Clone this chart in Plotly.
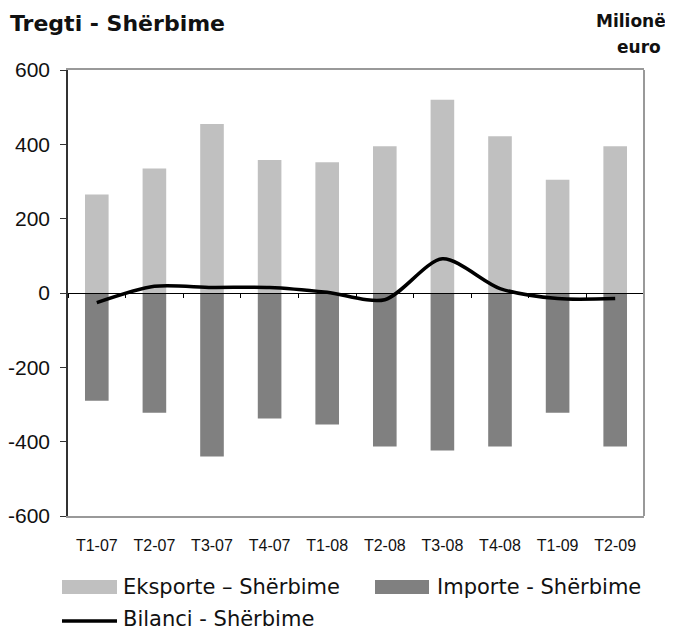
import plotly.graph_objects as go

categories = ["T1-07", "T2-07", "T3-07", "T4-07", "T1-08", "T2-08", "T3-08", "T4-08", "T1-09", "T2-09"]
eksporte = [265, 335, 455, 358, 352, 395, 520, 422, 305, 395]
importe = [-290, -322, -440, -338, -354, -413, -424, -413, -322, -413]
bilanci = [-26, 18, 15, 15, 2, -18, 92, 12, -15, -15]
y_ticks = [-600, -400, -200, 0, 200, 400, 600]
y_tick_text = ["-600", "-400", "-200", "0", "200", "400", "600"]
series_names = ["Eksporte – Shërbime", "Importe - Shërbime", "Bilanci - Shërbime"]
colors = ["#C0C0C0", "#808080", "#000000"]

# the page body has an 8px margin, so figure coords = page coords - 8
OFF = 8
W, H = 665, 623
L, R, T, B = 68 - OFF, 644 - OFF, 70 - OFF, 516 - OFF


def px(x):
    return (x - OFF - L) / (R - L)


def py(y):
    return (B - (y - OFF)) / (B - T)


fig = go.Figure()
fig.add_trace(go.Bar(x=categories, y=eksporte, name=series_names[0], showlegend=False,
                     marker=dict(color=colors[0], line=dict(width=0)), width=0.41))
fig.add_trace(go.Bar(x=categories, y=importe, name=series_names[1], showlegend=False,
                     marker=dict(color=colors[1], line=dict(width=0)), width=0.41))
fig.add_trace(go.Scatter(x=categories, y=bilanci, name=series_names[2], mode="lines", showlegend=False,
                         line=dict(color=colors[2], width=3.5, shape="spline", smoothing=0.8)))
# invisible trace on xaxis2 so the zero-line category axis is rendered
fig.add_trace(go.Scatter(x=[0], y=[0], xaxis="x2", mode="markers", marker=dict(opacity=0),
                         showlegend=False, hoverinfo="skip"))

legend_font = dict(family="DejaVu Sans", size=21, color="#111")
title_font = dict(family="DejaVu Sans", size=22, color="#111")
unit_font = dict(family="DejaVu Sans", size=17, color="#111")

annotations = [
    dict(text="<b>Tregti - Shërbime</b>", xref="paper", yref="paper", x=px(8), y=py(23),
         xanchor="left", yanchor="middle", showarrow=False, font=title_font),
    dict(text="<b>Milionë</b>", xref="paper", yref="paper", x=px(631), y=py(21),
         xanchor="center", yanchor="middle", showarrow=False, font=unit_font),
    dict(text="<b>euro</b>", xref="paper", yref="paper", x=px(639), y=py(47),
         xanchor="center", yanchor="middle", showarrow=False, font=unit_font),
    dict(text=series_names[0], xref="paper", yref="paper", x=px(121), y=py(587),
         xanchor="left", yanchor="middle", showarrow=False, font=legend_font),
    dict(text=series_names[1], xref="paper", yref="paper", x=px(435), y=py(587),
         xanchor="left", yanchor="middle", showarrow=False, font=legend_font),
    dict(text=series_names[2], xref="paper", yref="paper", x=px(121), y=py(619),
         xanchor="left", yanchor="middle", showarrow=False, font=legend_font),
]

shapes = [
    dict(type="line", xref="paper", yref="paper", x0=1, x1=1, y0=0, y1=1,
         line=dict(color="#999999", width=2)),
    # legend keys
    dict(type="rect", xref="paper", yref="paper", x0=px(62), x1=px(117), y0=py(594), y1=py(580),
         fillcolor=colors[0], line=dict(width=0)),
    dict(type="rect", xref="paper", yref="paper", x0=px(375), x1=px(429), y0=py(594), y1=py(580),
         fillcolor=colors[1], line=dict(width=0)),
    dict(type="line", xref="paper", yref="paper", x0=px(62), x1=px(117), y0=py(621), y1=py(621),
         line=dict(color=colors[2], width=3.5)),
]

fig.update_layout(
    width=W, height=H,
    margin=dict(l=L, r=W - R, t=T, b=H - B, autoexpand=False),
    barmode="overlay",
    plot_bgcolor="white", paper_bgcolor="white",
    showlegend=False,
    xaxis=dict(type="category", range=[-0.5, 9.5], showline=True, linecolor="#999999", linewidth=2,
               mirror=True, ticks="", showgrid=False, ticklabelstandoff=14,
               tickfont=dict(family="Arial", size=16, color="#111")),
    xaxis2=dict(overlaying="x", anchor="free", position=0.5, range=[-0.5, 9.5],
                tickmode="array", tickvals=[i + 0.5 for i in range(-1, 10)],
                ticks="outside", ticklen=4, tickcolor="black", showticklabels=False,
                showline=True, linecolor="black", linewidth=1, showgrid=False, zeroline=False),
    yaxis=dict(range=[-600, 600], tickmode="array", tickvals=y_ticks, ticktext=y_tick_text,
               showline=True, linecolor="#333333", linewidth=1.5,
               ticks="outside", ticklen=6, tickcolor="#333333", showgrid=False, zeroline=False,
               ticklabelstandoff=6,
               tickfont=dict(family="Arial", size=21, color="#111")),
    annotations=annotations,
    shapes=shapes,
)

fig.write_html("out.html")
